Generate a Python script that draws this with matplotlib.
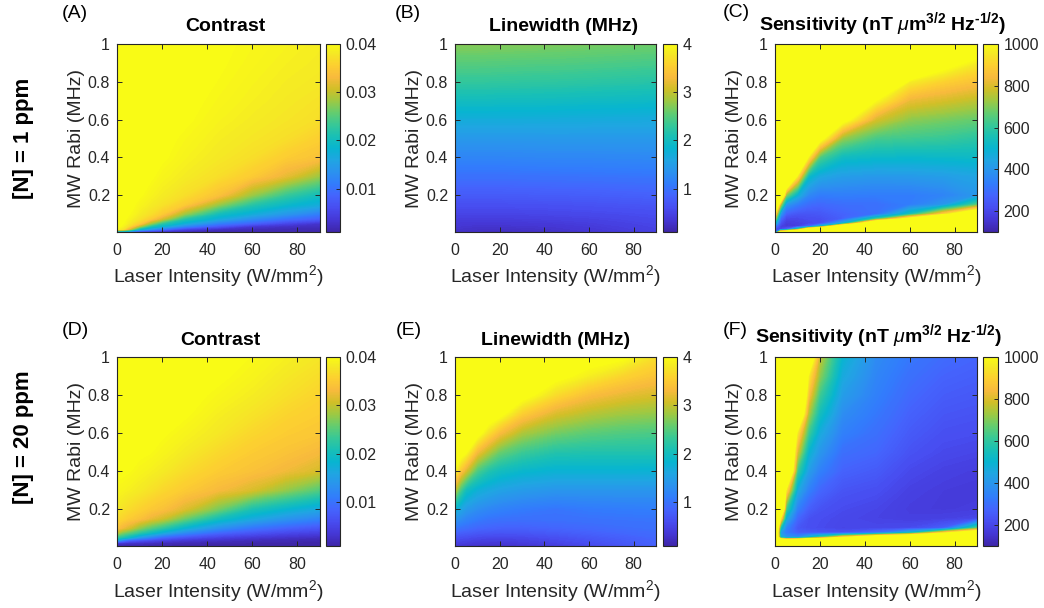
import numpy as np
import matplotlib
matplotlib.use("Agg")
import matplotlib.pyplot as plt
from matplotlib.colors import LinearSegmentedColormap, Normalize
from matplotlib.cm import ScalarMappable

plt.rcParams['font.family'] = ['Liberation Sans', 'DejaVu Sans']
plt.rcParams['mathtext.fontset'] = 'custom'
plt.rcParams['mathtext.rm'] = 'Liberation Sans'
plt.rcParams['mathtext.it'] = 'Liberation Sans:italic'
plt.rcParams['mathtext.bf'] = 'Liberation Sans:bold'

# ---------------- data ----------------
laser_intensity = [0, 2.5, 5, 10, 15, 20, 30, 45, 60, 75, 90]          # W/mm^2
mw_rabi = [0.005, 0.02, 0.035, 0.05, 0.075, 0.1, 0.15, 0.2,
           0.3, 0.4, 0.5, 0.6, 0.7, 0.8, 0.9, 1.0]                     # MHz
# every table below: one list per laser_intensity value, entries follow mw_rabi

contrast_1ppm = [
    [0.012, 0.039, 0.041, 0.041, 0.041, 0.041, 0.041, 0.041, 0.041, 0.041, 0.041, 0.041, 0.041, 0.041, 0.041, 0.041],
    [0.012, 0.0377, 0.039, 0.040, 0.0405, 0.041, 0.041, 0.041, 0.041, 0.041, 0.041, 0.041, 0.041, 0.041, 0.041, 0.041],
    [0.010, 0.032, 0.037, 0.0383, 0.0392, 0.040, 0.0405, 0.041, 0.041, 0.041, 0.041, 0.041, 0.041, 0.041, 0.041, 0.041],
    [0.0028, 0.019, 0.029, 0.035, 0.0374, 0.0383, 0.0392, 0.040, 0.0405, 0.041, 0.041, 0.041, 0.041, 0.041, 0.041, 0.041],
    [0.002, 0.014, 0.021, 0.028, 0.035, 0.037, 0.0383, 0.039, 0.040, 0.0403, 0.0405, 0.041, 0.041, 0.041, 0.041, 0.041],
    [0.0016, 0.010, 0.018, 0.022, 0.031, 0.035, 0.0374, 0.0383, 0.0392, 0.040, 0.0402, 0.0405, 0.0408, 0.041, 0.041, 0.041],
    [0.0015, 0.005, 0.012, 0.017, 0.022, 0.028, 0.035, 0.037, 0.0383, 0.039, 0.0395, 0.040, 0.0402, 0.0403, 0.0404, 0.0405],
    [0.0015, 0.0025, 0.007, 0.011, 0.017, 0.020, 0.028, 0.034, 0.037, 0.038, 0.0385, 0.039, 0.0394, 0.0397, 0.0399, 0.040],
    [0.0015, 0.002, 0.0035, 0.008, 0.013, 0.017, 0.022, 0.028, 0.035, 0.037, 0.0378, 0.0383, 0.0387, 0.039, 0.0393, 0.0395],
    [0.0015, 0.0017, 0.0026, 0.005, 0.010, 0.014, 0.019, 0.023, 0.032, 0.0352, 0.037, 0.0377, 0.0381, 0.0384, 0.0387, 0.039],
    [0.0015, 0.0015, 0.0023, 0.003, 0.008, 0.011, 0.017, 0.020, 0.028, 0.034, 0.0355, 0.037, 0.0375, 0.038, 0.0383, 0.0385],
]

linewidth_1ppm = [
    [0.28, 0.30, 0.33, 0.37, 0.43, 0.50, 0.62, 0.75, 0.98, 1.20, 1.42, 1.70, 1.99, 2.28, 2.50, 2.72],
    [0.27, 0.30, 0.33, 0.37, 0.42, 0.50, 0.62, 0.75, 0.98, 1.20, 1.42, 1.70, 1.99, 2.28, 2.50, 2.72],
    [0.26, 0.29, 0.32, 0.36, 0.42, 0.50, 0.62, 0.75, 0.98, 1.20, 1.42, 1.70, 1.99, 2.28, 2.50, 2.72],
    [0.25, 0.28, 0.31, 0.35, 0.42, 0.49, 0.62, 0.75, 0.98, 1.20, 1.42, 1.70, 1.99, 2.28, 2.50, 2.72],
    [0.24, 0.27, 0.31, 0.35, 0.42, 0.49, 0.62, 0.75, 0.98, 1.20, 1.42, 1.70, 1.99, 2.275, 2.495, 2.715],
    [0.24, 0.27, 0.31, 0.35, 0.42, 0.49, 0.62, 0.75, 0.98, 1.20, 1.42, 1.70, 1.98, 2.27, 2.49, 2.71],
    [0.25, 0.28, 0.32, 0.36, 0.43, 0.50, 0.63, 0.76, 0.99, 1.21, 1.42, 1.70, 1.98, 2.26, 2.48, 2.70],
    [0.28, 0.31, 0.34, 0.38, 0.45, 0.52, 0.64, 0.77, 1.00, 1.22, 1.43, 1.69, 1.97, 2.25, 2.47, 2.68],
    [0.33, 0.36, 0.39, 0.42, 0.48, 0.54, 0.66, 0.78, 1.01, 1.22, 1.43, 1.68, 1.95, 2.23, 2.45, 2.66],
    [0.40, 0.42, 0.44, 0.47, 0.52, 0.57, 0.68, 0.80, 1.02, 1.23, 1.43, 1.67, 1.94, 2.21, 2.43, 2.64],
    [0.46, 0.48, 0.50, 0.52, 0.56, 0.60, 0.70, 0.82, 1.03, 1.24, 1.43, 1.66, 1.92, 2.19, 2.41, 2.62],
]

sensitivity_1ppm = [
    [200, 230, 320, 500, 750, 950, 1400, 1500, 1500, 1500, 1500, 1500, 1500, 1500, 1500, 1500],
    [1100, 200, 185, 220, 290, 400, 750, 1400, 1500, 1500, 1500, 1500, 1500, 1500, 1500, 1500],
    [1300, 250, 170, 170, 200, 260, 400, 700, 1500, 1500, 1500, 1500, 1500, 1500, 1500, 1500],
    [1500, 600, 180, 180, 200, 235, 330, 480, 950, 1500, 1500, 1500, 1500, 1500, 1500, 1500],
    [1500, 1200, 280, 200, 215, 235, 290, 360, 520, 950, 1500, 1500, 1500, 1500, 1500, 1500],
    [1500, 1500, 500, 220, 220, 240, 280, 330, 450, 640, 1050, 1500, 1500, 1500, 1500, 1500],
    [1500, 1500, 1300, 480, 260, 270, 295, 335, 420, 530, 720, 1050, 1500, 1500, 1500, 1500],
    [1500, 1500, 1500, 1400, 600, 300, 300, 330, 405, 515, 630, 790, 990, 1400, 1500, 1500],
    [1500, 1500, 1500, 1500, 1050, 550, 330, 330, 410, 510, 620, 710, 820, 960, 1300, 1500],
    [1500, 1500, 1500, 1500, 1500, 900, 400, 350, 420, 515, 610, 690, 790, 900, 1050, 1300],
    [1500, 1500, 1500, 1500, 1500, 1250, 650, 400, 440, 520, 590, 670, 760, 860, 960, 1100],
]

contrast_20ppm = [
    [0.0012, 0.003, 0.016, 0.0225, 0.0295, 0.034, 0.0366, 0.038, 0.0393, 0.0402, 0.0406, 0.041, 0.041, 0.041, 0.041, 0.041],
    [0.0012, 0.0029, 0.0114, 0.021, 0.027, 0.0325, 0.036, 0.0374, 0.039, 0.0401, 0.0405, 0.0408, 0.041, 0.041, 0.041, 0.041],
    [0.0012, 0.0027, 0.0084, 0.019, 0.0254, 0.0312, 0.0352, 0.0368, 0.0387, 0.0399, 0.0403, 0.0407, 0.041, 0.041, 0.041, 0.041],
    [0.0012, 0.0025, 0.0066, 0.0143, 0.0224, 0.0275, 0.034, 0.0358, 0.0381, 0.0392, 0.0401, 0.0405, 0.0408, 0.041, 0.041, 0.041],
    [0.0011, 0.0022, 0.0055, 0.0114, 0.0197, 0.0249, 0.0322, 0.0348, 0.0373, 0.0387, 0.0398, 0.0402, 0.0406, 0.0409, 0.041, 0.041],
    [0.001, 0.0019, 0.0045, 0.0087, 0.017, 0.0227, 0.0307, 0.034, 0.0364, 0.0382, 0.0392, 0.040, 0.0404, 0.0407, 0.0409, 0.041],
    [0.001, 0.0016, 0.0033, 0.0065, 0.0125, 0.018, 0.0262, 0.0314, 0.035, 0.0368, 0.0382, 0.0391, 0.040, 0.0404, 0.0406, 0.0408],
    [0.001, 0.0013, 0.0026, 0.0046, 0.0088, 0.0132, 0.0202, 0.0265, 0.0331, 0.0351, 0.0365, 0.0379, 0.0386, 0.0394, 0.0401, 0.0403],
    [0.001, 0.0012, 0.002, 0.0035, 0.0068, 0.0102, 0.0166, 0.021, 0.0311, 0.034, 0.0351, 0.0363, 0.0375, 0.0384, 0.0391, 0.0397],
    [0.001, 0.0011, 0.0017, 0.0028, 0.0054, 0.0083, 0.0138, 0.0184, 0.0277, 0.0326, 0.0342, 0.0352, 0.0361, 0.0372, 0.038, 0.0387],
    [0.001, 0.0011, 0.0014, 0.0023, 0.0045, 0.0069, 0.0118, 0.0162, 0.0247, 0.0309, 0.033, 0.0346, 0.0353, 0.036, 0.0369, 0.0378],
]

linewidth_20ppm = [
    [0.35, 0.45, 0.55, 0.65, 0.85, 1.05, 1.4, 1.8, 3.0, 3.9, 4.3, 4.5, 4.5, 4.5, 4.5, 4.5],
    [0.32, 0.42, 0.52, 0.62, 0.80, 0.98, 1.3, 1.6, 2.4, 3.45, 4.2, 4.5, 4.5, 4.5, 4.5, 4.5],
    [0.30, 0.40, 0.50, 0.60, 0.78, 0.95, 1.2, 1.45, 2.0, 3.1, 4.0, 4.4, 4.5, 4.5, 4.5, 4.5],
    [0.28, 0.36, 0.45, 0.55, 0.72, 0.88, 1.1, 1.3, 1.75, 2.43, 3.3, 4.15, 4.45, 4.5, 4.5, 4.5],
    [0.27, 0.35, 0.44, 0.53, 0.70, 0.85, 1.03, 1.22, 1.64, 2.15, 2.92, 3.7, 4.3, 4.5, 4.5, 4.5],
    [0.28, 0.35, 0.43, 0.52, 0.68, 0.83, 1.0, 1.16, 1.55, 2.0, 2.6, 3.33, 4.1, 4.4, 4.5, 4.5],
    [0.32, 0.39, 0.46, 0.54, 0.69, 0.82, 0.98, 1.09, 1.46, 1.87, 2.35, 2.89, 3.53, 4.15, 4.4, 4.5],
    [0.42, 0.48, 0.55, 0.62, 0.75, 0.86, 0.98, 1.03, 1.39, 1.79, 2.17, 2.64, 3.11, 3.67, 4.1, 4.3],
    [0.55, 0.60, 0.66, 0.72, 0.82, 0.90, 1.0, 1.08, 1.39, 1.79, 2.15, 2.52, 2.93, 3.36, 3.85, 4.15],
    [0.68, 0.72, 0.76, 0.80, 0.88, 0.94, 1.02, 1.10, 1.39, 1.79, 2.15, 2.46, 2.82, 3.2, 3.6, 4.05],
    [0.82, 0.84, 0.86, 0.88, 0.92, 0.97, 1.03, 1.12, 1.38, 1.78, 2.15, 2.43, 2.77, 3.1, 3.42, 3.7],
]

sensitivity_20ppm = [
    [1500, 1500, 1500, 1500, 1500, 1500, 1500, 1500, 1500, 1500, 1500, 1500, 1500, 1500, 1500, 1500],
    [1500, 1500, 1400, 500, 420, 550, 950, 1500, 1500, 1500, 1500, 1500, 1500, 1500, 1500, 1500],
    [1500, 1500, 1200, 400, 330, 350, 470, 620, 950, 1500, 1500, 1500, 1500, 1500, 1500, 1500],
    [1500, 1500, 1300, 380, 260, 240, 280, 340, 460, 620, 800, 950, 1300, 1500, 1500, 1500],
    [1500, 1500, 1500, 500, 250, 220, 225, 260, 340, 420, 500, 620, 740, 860, 960, 1200],
    [1500, 1500, 1500, 650, 240, 210, 215, 230, 280, 340, 400, 460, 540, 620, 710, 770],
    [1500, 1500, 1500, 950, 230, 195, 200, 210, 235, 270, 300, 340, 375, 420, 460, 500],
    [1500, 1500, 1500, 1300, 300, 200, 190, 195, 220, 250, 280, 300, 320, 340, 355, 370],
    [1500, 1500, 1500, 1500, 500, 210, 180, 175, 185, 205, 230, 250, 268, 285, 302, 320],
    [1500, 1500, 1500, 1500, 900, 260, 185, 170, 172, 185, 205, 222, 238, 255, 272, 290],
    [1500, 1500, 1500, 1500, 1200, 650, 200, 175, 168, 175, 195, 215, 230, 245, 260, 275],
]

contrast_ticks = [0.01, 0.02, 0.03, 0.04]
contrast_ticklabels = ['0.01', '0.02', '0.03', '0.04']
linewidth_ticks = [1, 2, 3, 4]
linewidth_ticklabels = ['1', '2', '3', '4']
sensitivity_ticks = [200, 400, 600, 800, 1000]
sensitivity_ticklabels = ['200', '400', '600', '800', '1000']
x_ticks = [0, 20, 40, 60, 80]
y_ticks = [0.2, 0.4, 0.6, 0.8, 1.0]
y_ticklabels = ['0.2', '0.4', '0.6', '0.8', '1']

# ---------------- parula colormap ----------------
parula_anchor = [
    (0.2422, 0.1504, 0.6603), (0.2706, 0.2147, 0.8364), (0.2813, 0.3006, 0.9414),
    (0.2699, 0.3892, 0.9906), (0.1963, 0.4847, 0.9892), (0.1687, 0.5703, 0.9359),
    (0.1248, 0.6459, 0.8883), (0.0297, 0.7082, 0.8163), (0.0964, 0.7500, 0.7120),
    (0.2161, 0.7843, 0.5923), (0.3909, 0.8029, 0.4354), (0.6174, 0.7876, 0.2612),
    (0.8203, 0.7498, 0.1535), (0.9728, 0.7298, 0.2394), (0.9892, 0.8136, 0.1885),
    (0.9597, 0.9135, 0.1423), (0.9769, 0.9839, 0.0805)]
anchor_pos = [0, 4, 8, 12, 16, 20, 24, 28, 32, 36, 40, 44, 48, 52, 56, 60, 63]
parula = LinearSegmentedColormap.from_list(
    'parula', [(p / 63.0, c) for p, c in zip(anchor_pos, parula_anchor)], N=256)

# ---------------- figure ----------------
W, H = 1044, 608
fig = plt.figure(figsize=(W / 100, H / 100), dpi=100)
TXT = '#262626'

col_left = [117, 455, 775]
col_w = [203, 201, 202]
cb_left = [326, 663, 983]
cb_w = [14, 14, 15]
row_top = [44, 357]
row_h = [188, 189]

sens_title = 'Sensitivity (nT $\\mu$m$^{\\mathbf{3/2}}$ Hz$^{\\mathbf{\u20101/2}}$)'
panels = [
    dict(z=contrast_1ppm, vmin=0.001, vmax=0.04, ticks=contrast_ticks,
         tl=contrast_ticklabels, title='Contrast', tx=225, ty=31, letter='(A)', lx=62, ly=18),
    dict(z=linewidth_1ppm, vmin=0.1, vmax=4.0, ticks=linewidth_ticks,
         tl=linewidth_ticklabels, title='Linewidth (MHz)', tx=564, ty=31, letter='(B)', lx=395, ly=18),
    dict(z=sensitivity_1ppm, vmin=100, vmax=1000, ticks=sensitivity_ticks,
         tl=sensitivity_ticklabels, title=sens_title, tx=883, ty=30, letter='(C)', lx=723, ly=17),
    dict(z=contrast_20ppm, vmin=0.001, vmax=0.04, ticks=contrast_ticks,
         tl=contrast_ticklabels, title='Contrast', tx=220, ty=345, letter='(D)', lx=62, ly=335),
    dict(z=linewidth_20ppm, vmin=0.1, vmax=4.0, ticks=linewidth_ticks,
         tl=linewidth_ticklabels, title='Linewidth (MHz)', tx=556, ty=345, letter='(E)', lx=396, ly=335),
    dict(z=sensitivity_20ppm, vmin=100, vmax=1000, ticks=sensitivity_ticks,
         tl=sensitivity_ticklabels, title=sens_title, tx=879, ty=342, letter='(F)', lx=723, ly=335),
]

for i, p in enumerate(panels):
    r, c = divmod(i, 3)
    bottom = (H - row_top[r] - row_h[r]) / H
    ax = fig.add_axes([col_left[c] / W, bottom, col_w[c] / W, row_h[r] / H])
    levels = np.linspace(p['vmin'], p['vmax'], 151)
    z = np.array(p['z']).T          # rows follow mw_rabi, columns laser_intensity
    ax.contourf(laser_intensity, mw_rabi, z, levels=levels, cmap=parula,
                extend='both', antialiased=False)
    ax.set_xlim(0, 90)
    ax.set_ylim(0.005, 1)
    ax.set_xticks(x_ticks)
    ax.set_yticks(y_ticks)
    ax.set_yticklabels(y_ticklabels)
    ax.tick_params(direction='in', top=True, right=True, length=3.5, width=0.7,
                   colors=TXT, labelsize=11.5)
    ax.tick_params(axis='x', pad=8)
    ax.tick_params(axis='y', pad=5)
    for s in ax.spines.values():
        s.set_color(TXT)
        s.set_linewidth(0.8)
    ax.set_xlabel('Laser Intensity (W/mm$^2$)', fontsize=14, color=TXT)
    ax.xaxis.label.set_va('baseline')
    ax.xaxis.set_label_coords(0.5, -0.268)
    ax.set_ylabel('MW Rabi (MHz)', fontsize=14, color=TXT)
    ax.yaxis.label.set_va('baseline')
    ax.yaxis.set_label_coords(-0.179, 0.5)

    cax = fig.add_axes([cb_left[c] / W, bottom, cb_w[c] / W, row_h[r] / H])
    sm = ScalarMappable(norm=Normalize(p['vmin'], p['vmax']), cmap=parula)
    cb = fig.colorbar(sm, cax=cax)
    cb.set_ticks(p['ticks'])
    cb.set_ticklabels(p['tl'])
    cax.tick_params(direction='in', length=3, width=0.7, colors=TXT, labelsize=11.5, pad=4)
    cb.outline.set_edgecolor(TXT)
    cb.outline.set_linewidth(0.8)

    fig.text(p['tx'] / W, 1 - p['ty'] / H, p['title'], ha='center', va='baseline',
             fontsize=14, fontweight='bold', color='black')
    fig.text(p['lx'] / W, 1 - p['ly'] / H, p['letter'], ha='left', va='baseline',
             fontsize=14, color='black')

fig.text(23 / W, 1 - 138 / H, '[N] = 1 ppm', rotation=90, ha='center', va='center',
         fontsize=16, fontweight='bold', color='black')
fig.text(23 / W, 1 - 437 / H, '[N] = 20 ppm', rotation=90, ha='center', va='center',
         fontsize=16, fontweight='bold', color='black')

fig.savefig('out.png', dpi=100)
